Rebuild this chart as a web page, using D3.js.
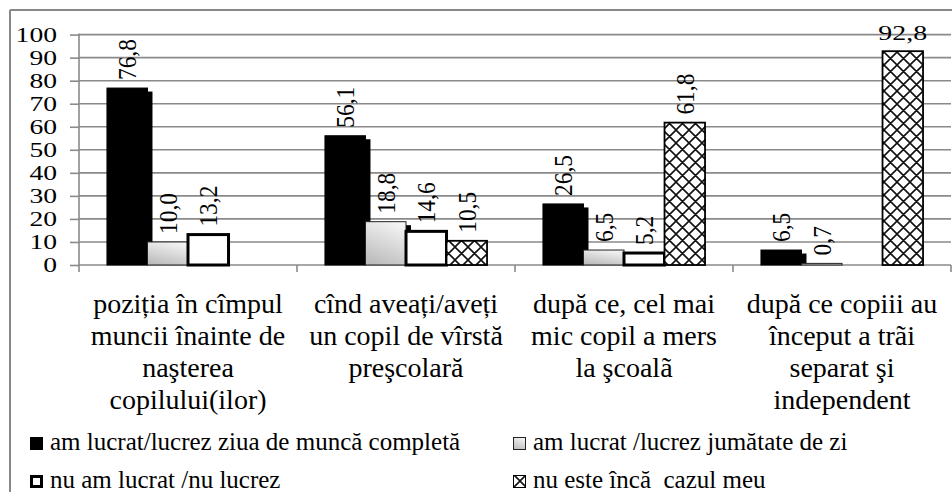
<!DOCTYPE html>
<html><head><meta charset="utf-8">
<script src="https://cdn.jsdelivr.net/npm/d3@7"></script>
<style>
body{margin:0;background:#fff;}
svg{display:block;}
svg text{font-family:"Liberation Serif","Times New Roman","DejaVu Serif",serif;}
</style>
</head><body>
<svg id="chart" width="952" height="492"></svg>
<script>
// ---- data ----
const categories = ["c1", "c2", "c3", "c4"];
const categoryLines = [
  ["poziția în cîmpul", "muncii înainte de", "naşterea", "copilului(ilor)"],
  ["cînd aveați/aveți", "un copil de vîrstă", "preşcolară"],
  ["după ce, cel mai", "mic copil a mers", "la şcoalã"],
  ["după ce copiii au", "început a trãi", "separat şi", "independent"]
];
const seriesNames = [
  "am lucrat/lucrez ziua de muncă completă",
  "am lucrat /lucrez jumătate de zi",
  "nu am lucrat /nu lucrez",
  "nu este încă  cazul meu"
];
const fullDay    = [76.8, 56.1, 26.5, 6.5];
const halfDay    = [10.0, 18.8, 6.5, 0.7];
const notWorking = [13.2, 14.6, 5.2, null];
const notYet     = [null, 10.5, 61.8, 92.8];
const yTicks = [0, 10, 20, 30, 40, 50, 60, 70, 80, 90, 100];

const seriesValues = [fullDay, halfDay, notWorking, notYet];
const seriesKeys = ["full", "half", "none", "notyet"];

// ---- setup ----
const svg = d3.select("#chart");
const FONT = '"Liberation Serif","Times New Roman","DejaVu Serif",serif';
const pLeft = 79, pRight = 951, pTop = 34.6, pBottom = 265;

const x0 = d3.scaleBand().domain(categories).range([pLeft, pRight]).paddingInner(0).paddingOuter(0);
const x1 = d3.scaleBand().domain(seriesKeys).range([0, x0.bandwidth()]).paddingInner(0).paddingOuter(0.69);
const y = d3.scaleLinear().domain([0, 100]).range([pBottom, pTop]);

const defs = svg.append("defs");
const grad = defs.append("linearGradient").attr("id", "grayGrad")
  .attr("x1", 0.7).attr("y1", 0).attr("x2", 0.3).attr("y2", 1);
grad.append("stop").attr("offset", "0%").attr("stop-color", "#f4f4f4");
grad.append("stop").attr("offset", "100%").attr("stop-color", "#bcbcbc");

const pat = defs.append("pattern").attr("id", "hatch").attr("patternUnits", "userSpaceOnUse")
  .attr("width", 13).attr("height", 13);
pat.append("rect").attr("width", 13).attr("height", 13).attr("fill", "#fff");
pat.append("path").attr("d", "M0,0L13,13M13,0L0,13M-1,12L1,14M12,-1L14,1M-1,1L1,-1M12,14L14,12")
  .attr("stroke", "#111").attr("stroke-width", 1.6);

// frame
svg.append("line").attr("x1", 10).attr("y1", 10).attr("x2", 10).attr("y2", 492)
  .attr("stroke", "#888").attr("stroke-width", 2);
svg.append("line").attr("x1", 10).attr("y1", 10).attr("x2", 952).attr("y2", 10)
  .attr("stroke", "#888").attr("stroke-width", 2);

// gridlines
svg.append("g").selectAll("line").data(yTicks).join("line")
  .attr("x1", pLeft).attr("x2", pRight)
  .attr("y1", d => y(d)).attr("y2", d => y(d))
  .attr("stroke", "#8a8a8a").attr("stroke-width", 1.6);

// y axis
const yAxis = svg.append("g").attr("transform", `translate(${pLeft},0)`)
  .call(d3.axisLeft(y).tickValues(yTicks).tickSize(9).tickPadding(13).tickFormat(d3.format("d")));
yAxis.attr("font-family", null);
yAxis.select(".domain").remove();
yAxis.selectAll(".tick line").attr("stroke", "#8a8a8a").attr("stroke-width", 1.6);
yAxis.selectAll(".tick text").style("font-family", FONT).attr("font-size", 20).attr("fill", "#000")
  .attr("dy", "0.34em")
  .each(function () { const n = this.getComputedTextLength(); d3.select(this).attr("textLength", n * 1.38).attr("lengthAdjust", "spacingAndGlyphs"); });
svg.append("line").attr("x1", pLeft).attr("x2", pLeft).attr("y1", pTop - 1).attr("y2", pBottom + 7)
  .attr("stroke", "#8a8a8a").attr("stroke-width", 1.6);

// category ticks
const catEdges = categories.map(c => x0(c)).concat([x0(categories[categories.length - 1]) + x0.bandwidth()]);
svg.append("g").selectAll("line").data(catEdges.slice(1)).join("line")
  .attr("x1", d => d).attr("x2", d => d).attr("y1", pBottom).attr("y2", pBottom + 7)
  .attr("stroke", "#8a8a8a").attr("stroke-width", 1.6);

// bars
const fills = ["#000", "url(#grayGrad)", "#fff", "url(#hatch)"];
const strokes = ["#000", "#222", "#000", "#000"];
const strokeW = [1, 1, 3, 1.8];
const shadow = [true, true, false, false];
const bw = x1.bandwidth();

seriesValues.forEach((vals, si) => {
  const data = vals.map((v, ci) => ({ v, c: categories[ci] })).filter(d => d.v != null);
  const g = svg.append("g");
  if (shadow[si]) {
    g.selectAll("rect.sh").data(data).join("rect").attr("class", "sh")
      .attr("x", d => x0(d.c) + x1(seriesKeys[si]) + 5)
      .attr("y", d => y(d.v) + 3.5)
      .attr("width", bw)
      .attr("height", d => Math.max(0, pBottom - y(d.v) - 3.5))
      .attr("fill", "#000");
  }
  g.selectAll("rect.bar").data(data).join("rect").attr("class", "bar")
    .attr("x", d => x0(d.c) + x1(seriesKeys[si]))
    .attr("y", d => y(d.v))
    .attr("width", bw)
    .attr("height", d => pBottom - y(d.v))
    .attr("fill", fills[si]).attr("stroke", strokes[si]).attr("stroke-width", strokeW[si]);
});

// value labels
const fmt = v => d3.format(".1f")(v).replace(".", ",");
seriesValues.forEach((vals, si) => {
  vals.forEach((v, ci) => {
    if (v == null) return;
    const cx = x0(categories[ci]) + x1(seriesKeys[si]) + bw / 2;
    const ty = y(v);
    if (ty - 50 < pTop - 8) {
      const t = svg.append("text").attr("x", cx).attr("y", ty - 11)
        .attr("text-anchor", "middle").style("font-family", FONT).attr("font-size", 22).text(fmt(v));
      t.attr("textLength", t.node().getComputedTextLength() * 1.27).attr("lengthAdjust", "spacingAndGlyphs");
    } else {
      const g = svg.append("g").attr("transform", `translate(${cx},${ty - 8}) rotate(-90)`);
      const t = g.append("text").attr("x", 0).attr("y", 0).attr("dy", "0.34em")
        .attr("text-anchor", "start").style("font-family", FONT).attr("font-size", 26).text(fmt(v));
      t.attr("textLength", t.node().getComputedTextLength() * 0.9).attr("lengthAdjust", "spacingAndGlyphs");
    }
  });
});

// category labels
categories.forEach((c, ci) => {
  const cx = x0(c) + x0.bandwidth() / 2;
  const t = svg.append("text").attr("text-anchor", "middle").style("font-family", FONT).attr("font-size", 28);
  categoryLines[ci].forEach((line, li) => {
    t.append("tspan").attr("x", cx).attr("y", 313 + li * 32).text(line);
  });
});

// legend
const legPos = [[30, 437], [513, 437], [30, 475], [513, 475]];
const leg = svg.append("g");
seriesNames.forEach((name, si) => {
  const [lx, ly] = legPos[si];
  const inset = si === 2 ? 1.5 : 0.5;
  leg.append("rect").attr("x", lx + inset).attr("y", ly + inset)
    .attr("width", 13 - 2 * inset).attr("height", 13 - 2 * inset)
    .attr("fill", fills[si]).attr("stroke", strokes[si]).attr("stroke-width", si === 2 ? 3 : 1);
  leg.append("text").attr("x", lx + 20).attr("y", ly + 13)
    .style("font-family", FONT).attr("font-size", 25).style("white-space", "pre").text(name);
});
</script>
</body></html>
